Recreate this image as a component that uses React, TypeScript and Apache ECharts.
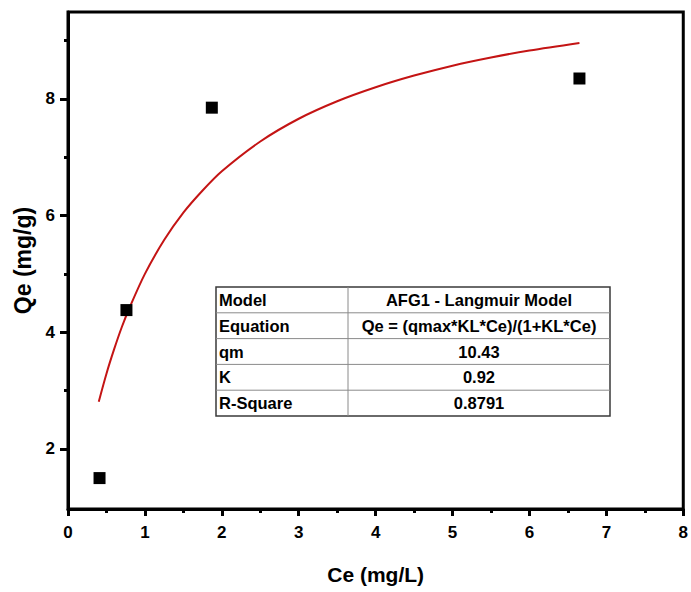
import React, { useEffect, useRef } from "react";
import * as echarts from "echarts";

// Measured adsorption equilibrium points
const ceValues = [0.41, 0.76, 1.87, 6.65];
const qeValues = [1.5, 4.38, 7.85, 8.35];

// Langmuir fit curve sampled along Ce
const fitCe = [0.4, 0.5, 0.6, 0.7, 0.8, 1.0, 1.25, 1.5, 1.75, 2.0, 2.5, 3.0, 3.5, 4.0, 4.5, 5.0, 5.5, 6.0, 6.65];
const fitQe = [2.81, 3.29, 3.71, 4.09, 4.42, 5.0, 5.58, 6.05, 6.43, 6.76, 7.27, 7.66, 7.96, 8.2, 8.4, 8.57, 8.71, 8.83, 8.96];

// Tick values
const yMajorTicks = [2, 4, 6, 8];
const yMinorTicks = [3, 5, 7, 9];

// Fit summary table
const tableLabels = ["Model", "Equation", "qm", "K", "R-Square"];
const tableValues = ["AFG1 - Langmuir Model", "Qe = (qmax*KL*Ce)/(1+KL*Ce)", "10.43", "0.92", "0.8791"];

const FONT = "'Liberation Sans', Arial, sans-serif";
const AXIS_W = 3;

function buildTable() {
  const x0 = 216;
  const x1 = 348;
  const x2 = 610;
  const y0 = 287;
  const rowH = 25.8;
  const els: any[] = [];
  const n = tableLabels.length;
  const y1 = y0 + rowH * n;
  els.push({
    type: "rect",
    shape: { x: x0, y: y0, width: x2 - x0, height: y1 - y0 },
    style: { fill: "#ffffff", stroke: "#3a3a3a", lineWidth: 1.5 },
    z: 10,
  });
  for (let i = 1; i < n; i++) {
    const y = y0 + rowH * i;
    els.push({
      type: "line",
      shape: { x1: x0, y1: y, x2: x2, y2: y },
      style: { stroke: "#8a8a8a", lineWidth: 1 },
      z: 11,
    });
  }
  els.push({
    type: "line",
    shape: { x1: x1, y1: y0, x2: x1, y2: y1 },
    style: { stroke: "#8a8a8a", lineWidth: 1 },
    z: 11,
  });
  tableLabels.forEach((label, i) => {
    const cy = y0 + rowH * (i + 0.5);
    els.push({
      type: "text",
      x: x0 + 3,
      y: cy,
      style: {
        text: label,
        font: `bold 16.5px ${FONT}`,
        fill: "#000",
        textAlign: "left",
        textVerticalAlign: "middle",
      },
      z: 12,
    });
    els.push({
      type: "text",
      x: (x1 + x2) / 2,
      y: cy,
      style: {
        text: tableValues[i],
        font: `bold 16.5px ${FONT}`,
        fill: "#000",
        textAlign: "center",
        textVerticalAlign: "middle",
      },
      z: 12,
    });
  });
  return els;
}

export default function App() {
  const ref = useRef<HTMLDivElement>(null);

  useEffect(() => {
    if (!ref.current) return;
    const chart = echarts.init(ref.current, undefined, { renderer: "svg" });
    const yMin = 0.97;
    const yMax = 9.49;
    chart.setOption({
      animation: false,
      backgroundColor: "#ffffff",
      grid: {
        left: 68,
        top: 12,
        right: 6,
        bottom: 83,
        show: true,
        borderColor: "#000",
        borderWidth: AXIS_W,
        backgroundColor: "transparent",
      },
      xAxis: {
        type: "value",
        min: 0,
        max: 8,
        interval: 1,
        name: "Ce (mg/L)",
        nameLocation: "middle",
        nameGap: 55,
        nameTextStyle: { fontFamily: FONT, fontWeight: "bold", fontSize: 21, color: "#000" },
        axisLine: { show: true, onZero: false, lineStyle: { color: "#000", width: AXIS_W } },
        axisTick: { show: true, inside: false, length: 7, lineStyle: { color: "#000", width: AXIS_W } },
        minorTick: { show: true, splitNumber: 2, length: 4, lineStyle: { color: "#000", width: AXIS_W } },
        axisLabel: { fontFamily: FONT, fontWeight: "bold", fontSize: 17, color: "#000", margin: 15 },
        splitLine: { show: false },
        minorSplitLine: { show: false },
      },
      yAxis: [
        {
          type: "value",
          min: yMin,
          max: yMax,
          name: "Qe (mg/g)",
          nameLocation: "middle",
          nameGap: 28,
          nameTextStyle: { fontFamily: FONT, fontWeight: "bold", fontSize: 23, color: "#000" },
          axisLine: { show: true, onZero: false, lineStyle: { color: "#000", width: AXIS_W } },
          axisTick: {
            show: true,
            inside: false,
            length: 8,
            customValues: yMajorTicks,
            lineStyle: { color: "#000", width: AXIS_W },
          },
          axisLabel: {
            fontFamily: FONT,
            fontWeight: "bold",
            fontSize: 17,
            color: "#000",
            margin: 13,
            customValues: yMajorTicks,
          },
          splitLine: { show: false },
        },
        {
          type: "value",
          min: yMin,
          max: yMax,
          position: "left",
          axisLine: { show: false },
          axisTick: {
            show: true,
            inside: false,
            length: 4,
            customValues: yMinorTicks,
            lineStyle: { color: "#000", width: AXIS_W },
          },
          axisLabel: { show: false },
          splitLine: { show: false },
        },
      ],
      series: [
        {
          type: "line",
          data: fitCe.map((x, i) => [x, fitQe[i]]),
          smooth: 0.3,
          showSymbol: false,
          lineStyle: { color: "#c41414", width: 2 },
          z: 2,
        },
        {
          type: "scatter",
          data: ceValues.map((x, i) => [x, qeValues[i]]),
          symbol: "rect",
          symbolSize: 12,
          itemStyle: { color: "#000", opacity: 1 },
          z: 3,
        },
      ],
      graphic: buildTable(),
    });
    return () => chart.dispose();
  }, []);

  return (
    <div
      ref={ref}
      style={{ position: "fixed", left: 0, top: 0, width: 691, height: 592, background: "#fff" }}
    />
  );
}
